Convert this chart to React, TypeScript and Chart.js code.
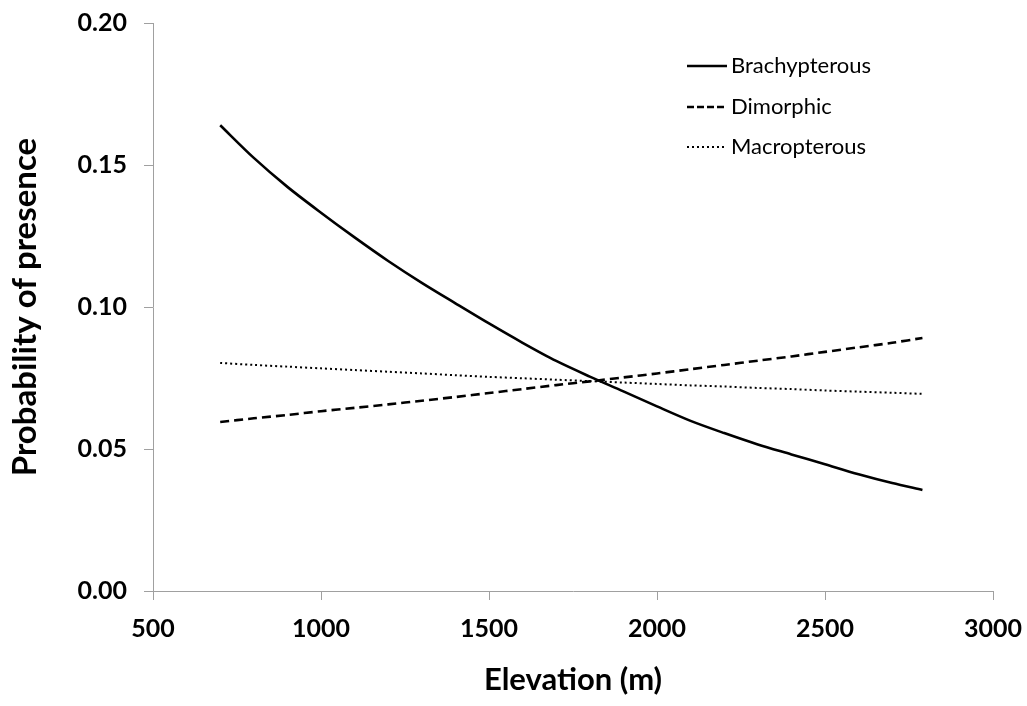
import React, { useEffect, useRef } from "react";
import { Chart, registerables } from "chart.js";

Chart.register(...registerables);

const elevations = [700, 800, 900, 1000, 1100, 1200, 1300, 1400, 1500, 1600, 1700, 1800, 1900, 2000, 2100, 2200, 2300, 2400, 2500, 2600, 2700, 2790];
const brachypterous = [0.164, 0.1525, 0.1423, 0.1332, 0.1245, 0.1162, 0.1085, 0.1013, 0.0942, 0.0874, 0.081, 0.0755, 0.0703, 0.065, 0.0599, 0.0556, 0.0516, 0.0481, 0.0446, 0.0411, 0.038, 0.0356];
const dimorphic = [0.0595, 0.0608, 0.062, 0.0633, 0.0645, 0.0657, 0.067, 0.0683, 0.0697, 0.0711, 0.0725, 0.0738, 0.0752, 0.0766, 0.0781, 0.0796, 0.0811, 0.0826, 0.0842, 0.0858, 0.0874, 0.0891];
const macropterous = [0.0803, 0.0796, 0.079, 0.0784, 0.0778, 0.0772, 0.0766, 0.076, 0.0754, 0.0749, 0.0744, 0.0739, 0.0734, 0.0729, 0.0724, 0.072, 0.0715, 0.0711, 0.0706, 0.0702, 0.0698, 0.0694];
const seriesNames = ["Brachypterous", "Dimorphic", "Macropterous"];
const xTicks = [500, 1000, 1500, 2000, 2500, 3000];
const yTicks = [0, 0.05, 0.1, 0.15, 0.2];

const FONT = "Lato, 'Open Sans', sans-serif";

const legendPlugin = {
  id: "customLegend",
  afterDraw(chart: any) {
    const ctx = chart.ctx;
    const x0 = 687;
    const x1 = 727;
    const ys = [66, 107, 147];
    ctx.save();
    chart.data.datasets.forEach((ds: any, i: number) => {
      const y = ys[i];
      ctx.beginPath();
      ctx.strokeStyle = ds.borderColor;
      ctx.lineWidth = ds.borderWidth;
      ctx.setLineDash(i === 1 ? [7, 3] : ds.borderDash || []);
      ctx.moveTo(x0, y);
      ctx.lineTo(x1, y);
      ctx.stroke();
      ctx.setLineDash([]);
      ctx.fillStyle = "#000";
      ctx.font = `22px ${FONT}`;
      ctx.textBaseline = "middle";
      ctx.textAlign = "left";
      ctx.fillText(ds.label, x1 + 4, y);
    });
    ctx.restore();
  },
};

export default function App() {
  const ref = useRef<HTMLCanvasElement>(null);
  useEffect(() => {
    document.body.style.margin = "0";
    const mk = (vals: number[]) => elevations.map((x, i) => ({ x, y: vals[i] }));
    const chart = new Chart(ref.current!, {
      type: "line",
      data: {
        datasets: [
          { label: seriesNames[0], data: mk(brachypterous), borderColor: "#000", borderWidth: 2.6, borderDash: [], pointRadius: 0, tension: 0.3, fill: false },
          { label: seriesNames[1], data: mk(dimorphic), borderColor: "#000", borderWidth: 2.6, borderDash: [9, 5], pointRadius: 0, tension: 0.3, fill: false },
          { label: seriesNames[2], data: mk(macropterous), borderColor: "#000", borderWidth: 2, borderDash: [2, 3], pointRadius: 0, tension: 0.3, fill: false },
        ],
      },
      options: {
        responsive: false,
        animation: false,
        layout: { padding: { top: 23, right: 34, left: 0, bottom: 0 } },
        plugins: { legend: { display: false }, tooltip: { enabled: false } },
        scales: {
          x: {
            type: "linear",
            min: 500,
            max: 3000,
            afterBuildTicks: (s: any) => { s.ticks = xTicks.map((v) => ({ value: v })); },
            afterFit: (s: any) => { s.height = 115; s.paddingLeft = 0; s.paddingRight = 0; },
            grid: { display: true, drawOnChartArea: false, drawTicks: true, tickLength: 9, color: "#a0a0a0" },
            border: { color: "#a0a0a0", width: 1 },
            ticks: { color: "#000", font: { family: FONT, size: 25, weight: "bold" }, padding: 14, maxRotation: 0, callback: (v: any) => String(v) },
            title: { display: true, text: "Elevation (m)", color: "#000", font: { family: FONT, size: 31, weight: "bold" }, padding: { top: 0, bottom: 7 } },
          },
          y: {
            min: 0,
            max: 0.2,
            afterBuildTicks: (s: any) => { s.ticks = yTicks.map((v) => ({ value: v })); },
            afterFit: (s: any) => { s.width = 153; s.paddingTop = 0; s.paddingBottom = 0; },
            grid: { display: true, drawOnChartArea: false, drawTicks: true, tickLength: 9, color: "#a0a0a0" },
            border: { color: "#a0a0a0", width: 1 },
            ticks: { color: "#000", font: { family: FONT, size: 25, weight: "bold" }, padding: 17, callback: (v: any) => Number(v).toFixed(2) },
            title: { display: true, text: "Probability of presence", color: "#000", font: { family: FONT, size: 33, weight: "bold" }, padding: { top: 6, bottom: 0 } },
          },
        },
      },
      plugins: [legendPlugin],
    });
    return () => chart.destroy();
  }, []);
  return (
    <div style={{ position: "absolute", left: 0, top: 0, width: 1027, height: 706, background: "#fff" }}>
      <canvas ref={ref} width={1027} height={706} style={{ width: 1027, height: 706 }} />
    </div>
  );
}
